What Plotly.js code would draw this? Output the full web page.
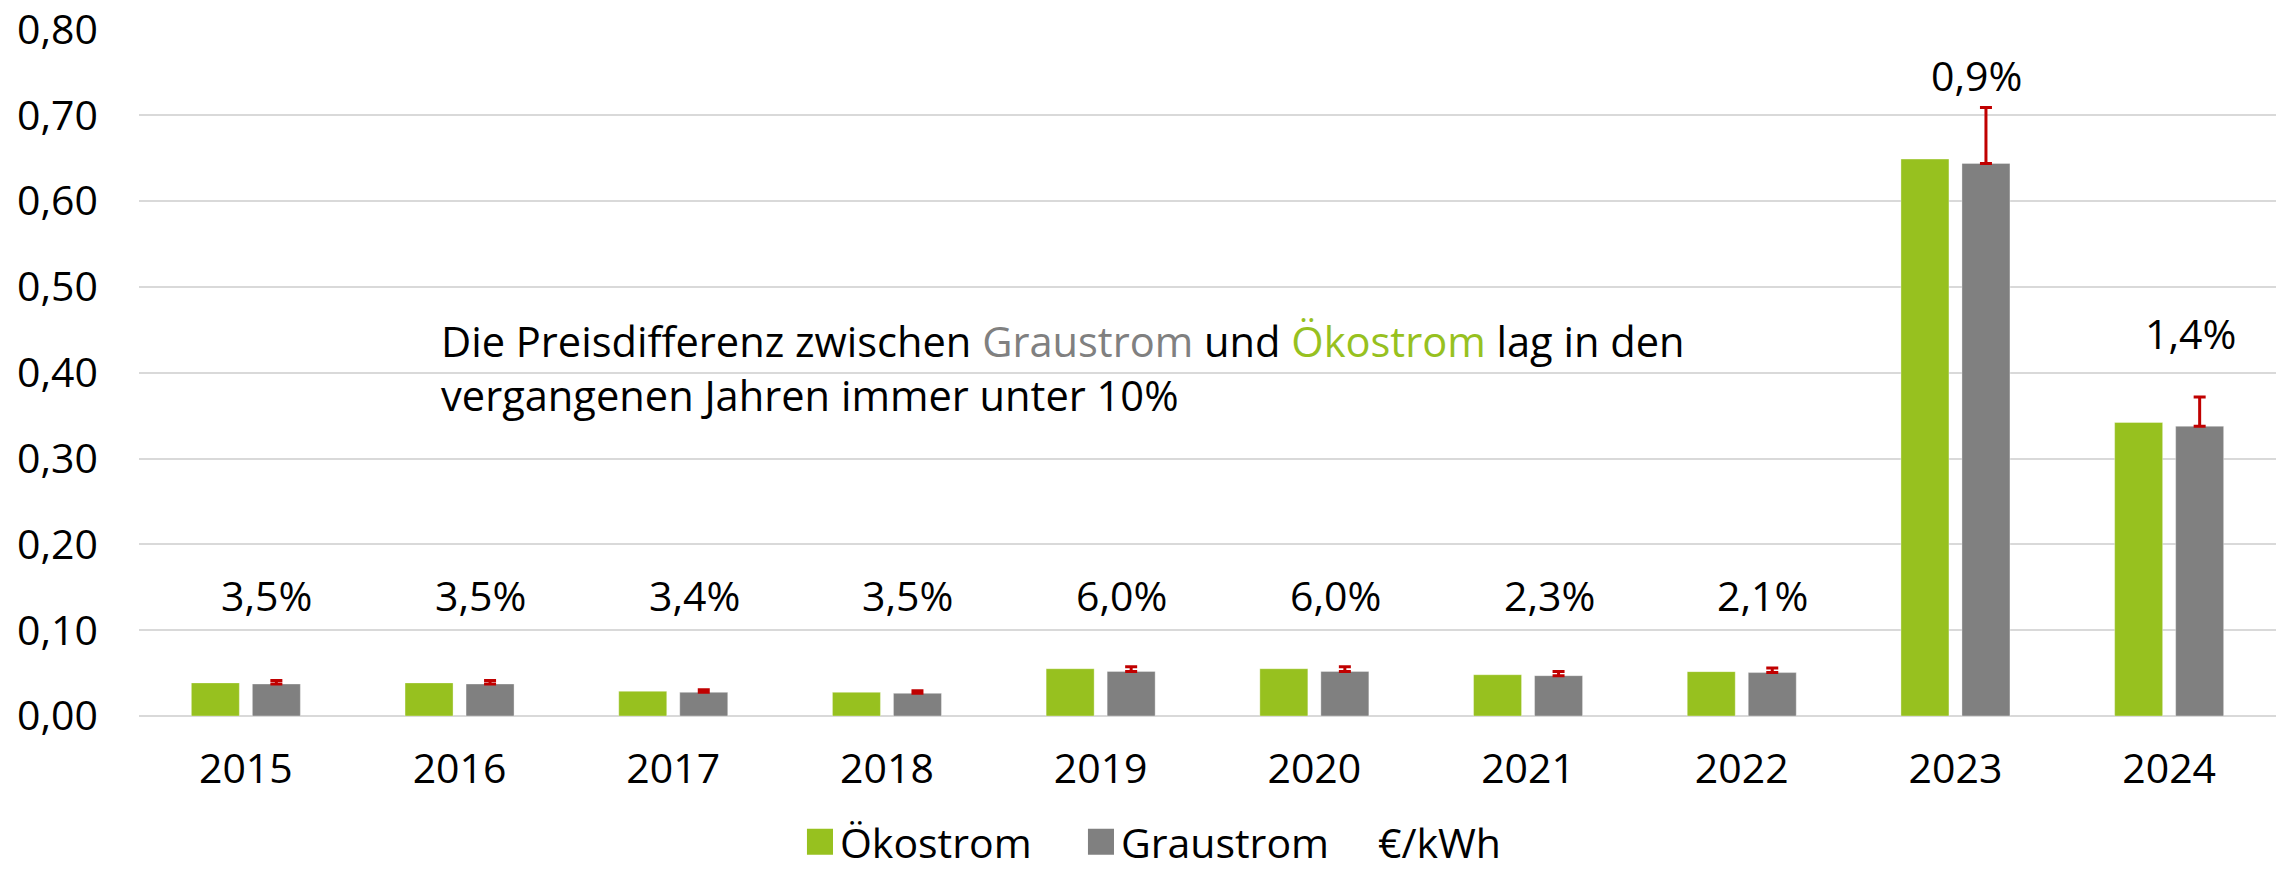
<!DOCTYPE html>
<html>
<head>
<meta charset="utf-8">
<script src="https://cdn.plot.ly/plotly-3.0.1.min.js"></script>
<style>
  html, body { margin: 0; padding: 0; background: #ffffff; }
  #chart { width: 2287px; height: 869px; }
</style>
</head>
<body>
<div id="chart"></div>
<script>
// ---- data ----
const years = ['2015', '2016', '2017', '2018', '2019', '2020', '2021', '2022', '2023', '2024'];
const oekostrom = [0.0386, 0.0386, 0.0288, 0.0276, 0.0551, 0.0551, 0.0481, 0.0517, 0.649, 0.342];
const graustrom = [0.0373, 0.0373, 0.0276, 0.0264, 0.0520, 0.0520, 0.0470, 0.0506, 0.644, 0.3377];
const graustromErrPlus = [0.0040, 0.0040, 0.0030, 0.0030, 0.0055, 0.0055, 0.0050, 0.0052, 0.065, 0.034];
const diffLabels = ['3,5%', '3,5%', '3,4%', '3,5%', '6,0%', '6,0%', '2,3%', '2,1%', '0,9%', '1,4%'];
const yTicks = [0, 0.1, 0.2, 0.3, 0.4, 0.5, 0.6, 0.7, 0.8];
const seriesNames = ['Ökostrom', 'Graustrom'];
const unitLabel = '€/kWh';

// ---- layout helpers (positions of the percentage labels, in axis units) ----
const diffLabelY = [0.1407, 0.1407, 0.1407, 0.1407, 0.1407, 0.1407, 0.1407, 0.1407, 0.7467, 0.446];

const GREEN = '#97C11F';
const GREY = '#808080';
const RED = '#C00000';
const FONT = '"Open Sans", "Noto Sans", sans-serif';
const FS = 41;

const traces = [
  {
    type: 'bar', name: seriesNames[0], x: years, y: oekostrom,
    marker: { color: GREEN, line: { width: 1, color: 'rgba(255,255,255,0.35)' } },
    legendwidth: 236, hoverinfo: 'skip'
  },
  {
    type: 'bar', name: seriesNames[1], x: years, y: graustrom,
    marker: { color: GREY, line: { width: 1, color: 'rgba(255,255,255,0.35)' } },
    error_y: { type: 'data', array: graustromErrPlus, arrayminus: years.map(() => 0), symmetric: false,
               color: RED, thickness: 3, width: 6 },
    legendwidth: 212, hoverinfo: 'skip'
  },
  {
    type: 'scatter', mode: 'markers', name: unitLabel, x: years, y: years.map(() => null),
    marker: { color: 'rgba(0,0,0,0)', size: 1 }, hoverinfo: 'skip'
  }
];

// on a category axis, annotation x is the category's serial number
const annotations = years.map((yr, i) => ({
  x: years.indexOf(yr), y: diffLabelY[i], xref: 'x', yref: 'y', xshift: 21,
  text: diffLabels[i], showarrow: false,
  font: { family: FONT, size: FS, color: '#000000' },
  xanchor: 'center', yanchor: 'middle'
}));

annotations.push({
  xref: 'paper', yref: 'y', x: 0.1404, y: 0.405,
  xanchor: 'left', yanchor: 'middle', align: 'left', showarrow: false,
  text: 'Die Preisdifferenz zwischen <span style="color:' + GREY + '">Graustrom</span> und <span style="color:' + GREEN + '">Ökostrom</span> lag in den<br>vergangenen Jahren immer unter 10%',
  font: { family: FONT, size: 41.6, color: '#000000' }
});

const layout = {
  width: 2287, height: 869,
  margin: { l: 139, r: 11, t: 29, b: 153, autoexpand: false },
  paper_bgcolor: '#ffffff', plot_bgcolor: '#ffffff',
  separators: ',.',
  font: { family: FONT, size: FS, color: '#000000' },
  barmode: 'group', bargap: 0.429, bargroupgap: 0.213,
  showlegend: true,
  legend: {
    orientation: 'h', xref: 'paper', x: 0.3093, xanchor: 'left',
    yref: 'container', y: 0.031, yanchor: 'middle',
    font: { family: FONT, size: FS, color: '#000000' },
    itemclick: false, itemdoubleclick: false, traceorder: 'normal'
  },
  xaxis: {
    type: 'category', categoryorder: 'array', categoryarray: years,
    range: [-0.5, years.length - 0.5], autorange: false,
    showgrid: false, showline: false, zeroline: false, ticks: '',
    tickfont: { family: FONT, size: FS, color: '#000000' }, ticklabelstandoff: 25,
    fixedrange: true
  },
  yaxis: {
    range: [0, 0.8006], autorange: false, tickvals: yTicks, tickformat: '.2f',
    showgrid: true, gridcolor: '#d9d9d9', gridwidth: 2,
    zeroline: true, zerolinecolor: '#d9d9d9', zerolinewidth: 2,
    showline: false, ticks: '', ticklabeloverflow: 'allow',
    tickfont: { family: FONT, size: FS, color: '#000000' }, ticklabelstandoff: 40,
    fixedrange: true
  },
  annotations: annotations,
  hovermode: false
};

function enlargeLegendSymbols() {
  try {
    document.querySelectorAll('.legend .traces').forEach(function (t, idx) {
      if (idx > 1) return;
      t.querySelectorAll('.legendpoints path').forEach(function (p) {
        if (p.getAttribute('data-scaled')) return;
        p.setAttribute('transform', (p.getAttribute('transform') || '') + ' scale(2.17)');
        p.setAttribute('data-scaled', '1');
        p.style.strokeWidth = '0px';
      });
    });
  } catch (e) {}
}

Plotly.newPlot('chart', traces, layout, { displayModeBar: false, staticPlot: true }).then(function () {
  enlargeLegendSymbols();
});
</script>
</body>
</html>
